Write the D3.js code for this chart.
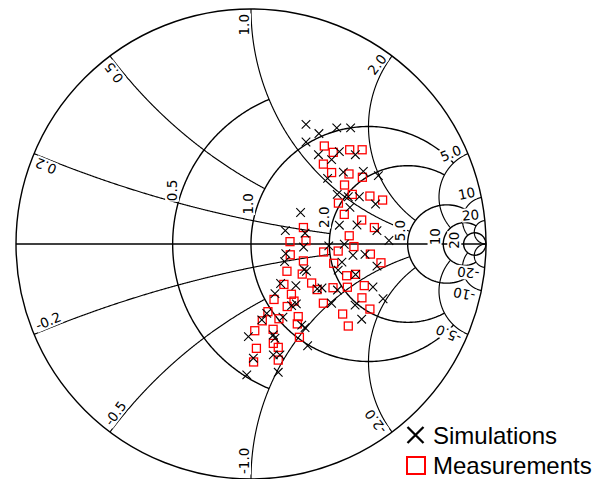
<!DOCTYPE html>
<html>
<head>
<meta charset="utf-8">
<script src="https://cdn.jsdelivr.net/npm/d3@7"></script>
<style>
	body { margin: 0; background: #fff; }
	text { font-family: "DejaVu Sans", sans-serif; }
</style>
</head>
<body>
<svg id="chart" width="605" height="479"></svg>
<script>
// reflection coefficient (real / imag) of the simulated points
var simRe = [0.234, 0.289, 0.365, 0.424, 0.234, 0.287, 0.343, 0.376, 0.444, 0.393, 0.478, 0.326, 0.542,
	0.367, 0.414, 0.461, 0.530, 0.421, 0.211, 0.376, 0.451, 0.536, 0.146, 0.230, 0.587, 0.331, 0.397,
	0.224, 0.148, 0.434, 0.485, 0.387, 0.143, 0.536, 0.371, 0.226, 0.236, 0.445, 0.126, 0.191, 0.282,
	0.302, 0.368, 0.519, 0.102, 0.562, 0.173, 0.193, 0.067, 0.046, 0.136, 0.343, 0.443, 0.471, 0.216,
	0.230, -0.011, 0.095, 0.102, 0.241, 0.010, 0.095, 0.123, 0.116, -0.018];
var simIm = [0.509, 0.470, 0.494, 0.494, 0.434, 0.380, 0.359, 0.393, 0.380, 0.306, 0.309, 0.279, 0.291,
	0.211, 0.201, 0.201, 0.170, 0.156, 0.134, 0.080, 0.081, 0.057, 0.057, 0.046, 0.015, -0.008, -0.001,
	-0.013, -0.041, -0.048, -0.044, -0.077, -0.075, -0.094, -0.111, -0.109, -0.116, -0.130, -0.168, -0.177, -0.191,
	-0.187, -0.196, -0.183, -0.211, -0.233, -0.262, -0.255, -0.295, -0.323, -0.311, -0.252, -0.260, -0.320, -0.345,
	-0.356, -0.394, -0.387, -0.401, -0.433, -0.486, -0.472, -0.472, -0.546, -0.557];

// reflection coefficient (real / imag) of the measured points
var measRe = [0.312, 0.350, 0.420, 0.473, 0.308, 0.343, 0.417, 0.474, 0.398, 0.431, 0.506, 0.560, 0.372,
	0.397, 0.471, 0.525, 0.223, 0.418, 0.166, 0.234, 0.438, 0.309, 0.371, 0.508, 0.167, 0.223, 0.352,
	0.553, 0.153, 0.218, 0.407, 0.445, 0.258, 0.349, 0.410, 0.482, 0.281, 0.140, 0.172, 0.098, 0.472,
	0.183, 0.154, 0.308, 0.506, 0.072, 0.048, 0.119, 0.201, 0.197, 0.390, 0.414, 0.016, 0.094, 0.095,
	0.116, 0.206, 0.023, 0.011, 0.116];
var measIm = [0.417, 0.390, 0.401, 0.401, 0.340, 0.304, 0.298, 0.284, 0.251, 0.211, 0.204, 0.187, 0.174,
	0.126, 0.102, 0.070, 0.070, 0.035, 0.010, 0.014, -0.011, -0.034, -0.030, -0.043, -0.046, -0.072, -0.082,
	-0.080, -0.116, -0.128, -0.135, -0.129, -0.166, -0.186, -0.184, -0.177, -0.194, -0.172, -0.214, -0.236, -0.229,
	-0.243, -0.266, -0.252, -0.277, -0.288, -0.327, -0.318, -0.309, -0.340, -0.298, -0.349, -0.369, -0.363, -0.423,
	-0.440, -0.397, -0.444, -0.502, -0.494];

// grid: resistance circles and the reactance where each one stops
var rTicks = [0.5, 1, 2, 5, 10, 20];
var rStop = [1, 5, 5, 10, 20, Infinity];
// reactance arcs and the resistance where each one stops
var xTicks = [0.2, 0.5, 1, 2, 5, 10, 20];
var xStop = [2, 1, 5, 5, 10, 20, Infinity];

var legendLabels = ['Simulations', 'Measurements'];

var cx = 251, cy = 244, R = 235;
var svg = d3.select('#chart');

var sx = d3.scaleLinear().domain([-1, 1]).range([cx - R, cx + R]);
var sy = d3.scaleLinear().domain([-1, 1]).range([cy + R, cy - R]);
var line = d3.line()
	.x(function(d) { return sx(d[0]); })
	.y(function(d) { return sy(d[1]); });

// normalized impedance -> reflection coefficient
function gamma(r, x) {
	var a = r - 1, c = r + 1;
	var den = c * c + x * x;
	return [(a * c + x * x) / den, (x * c - a * x) / den];
}

function fmt(v) {
	var s = Math.abs(v) >= 10 ? d3.format('d')(Math.abs(v)) : d3.format('.1f')(Math.abs(v));
	return (v < 0 ? '-' : '') + s;
}

var grid = svg.append('g').attr('class', 'grid').attr('fill', 'none').attr('stroke', '#000');

// resistance circles
rTicks.forEach(function(r, i) {
	var t1 = Math.atan(rStop[i]);
	var pts = d3.range(0, 401).map(function(k) {
		var t = -t1 + 2 * t1 * k / 400;
		return gamma(r, Math.tan(t));
	});
	grid.append('path').attr('d', line(pts)).attr('stroke-width', 1.4);
});

// reactance arcs, both signs
xTicks.forEach(function(x, i) {
	var t1 = Math.atan(xStop[i]);
	[x, -x].forEach(function(xv) {
		var pts = d3.range(0, 401).map(function(k) {
			return gamma(Math.tan(t1 * k / 400), xv);
		});
		grid.append('path').attr('d', line(pts)).attr('stroke-width', 1.15);
	});
});

// real axis and outer circle
grid.append('line')
	.attr('x1', sx(-1)).attr('x2', sx(1))
	.attr('y1', sy(0)).attr('y2', sy(0))
	.attr('stroke-width', 1.3);
grid.append('circle')
	.attr('cx', sx(0)).attr('cy', sy(0))
	.attr('r', sx(1) - sx(0))
	.attr('stroke-width', 1.4);

var labels = svg.append('g').attr('class', 'labels').style('font-size', '13.5px');

function addLabel(px, py, angle, txt, anchor, dy) {
	var lg = labels.append('g')
		.attr('transform', 'translate(' + px + ',' + py + ') rotate(' + angle + ')');
	var rect = lg.append('rect').attr('fill', '#fff');
	var t = lg.append('text')
		.attr('text-anchor', anchor)
		.attr('y', dy)
		.attr('fill', '#000')
		.text(txt);
	var bb = t.node().getBBox();
	rect.attr('x', bb.x - 0.5).attr('y', bb.y + 1)
		.attr('width', bb.width + 1).attr('height', bb.height - 2);
}

// reactance labels along each arc, just inside the outer circle
xTicks.forEach(function(x) {
	[x, -x].forEach(function(xv) {
		var p = gamma(0, xv), q = gamma(1e-4, xv);
		var P = [sx(p[0]), sy(p[1])], Q = [sx(q[0]), sy(q[1])];
		var dx = Q[0] - P[0], dy = Q[1] - P[1], n = Math.hypot(dx, dy);
		dx /= n; dy /= n;
		var dir = xv > 0 ? [-dx, -dy] : [dx, dy];
		var ang = Math.atan2(dir[1], dir[0]) * 180 / Math.PI;
		addLabel(P[0] + 5 * dx, P[1] + 5 * dy, ang, fmt(xv), xv > 0 ? 'end' : 'start', -2);
	});
});

// resistance labels on the upper left of each circle
rTicks.forEach(function(r) {
	var c = r / (1 + r), rad = 1 / (1 + r), a = 20 * Math.PI / 180;
	addLabel(sx(c - rad * Math.cos(a)), sy(rad * Math.sin(a)), -90, fmt(r), 'middle', -5);
});

// data
var marks = svg.append('g').attr('class', 'marks');

var meas = d3.zip(measRe, measIm);
marks.selectAll('rect.meas')
	.data(meas)
	.enter()
	.append('rect')
	.attr('class', 'meas')
	.attr('x', function(d) { return sx(d[0]) - 4; })
	.attr('y', function(d) { return sy(d[1]) - 4; })
	.attr('width', 8)
	.attr('height', 8)
	.attr('fill', 'none')
	.attr('stroke', '#ff0000')
	.attr('stroke-width', 1.3);

function cross(s) {
	return 'M' + (-s) + ',' + (-s) + 'L' + s + ',' + s + 'M' + (-s) + ',' + s + 'L' + s + ',' + (-s);
}

var sim = d3.zip(simRe, simIm);
marks.selectAll('path.sim')
	.data(sim)
	.enter()
	.append('path')
	.attr('class', 'sim')
	.attr('transform', function(d) { return 'translate(' + sx(d[0]) + ',' + sy(d[1]) + ')'; })
	.attr('d', cross(4.3))
	.attr('fill', 'none')
	.attr('stroke', '#000')
	.attr('stroke-width', 1.1);

// legend
var legend = svg.append('g').attr('class', 'legend')
	.style('font-size', '24px');

legend.append('path')
	.attr('transform', 'translate(415.5,435)')
	.attr('d', cross(8))
	.attr('fill', 'none')
	.attr('stroke', '#000')
	.attr('stroke-width', 2.3);
legend.append('text')
	.attr('x', 433).attr('y', 443.5)
	.style('font-family', '"Liberation Sans", Arial, sans-serif')
	.text(legendLabels[0]);

legend.append('rect')
	.attr('x', 407).attr('y', 457)
	.attr('width', 18).attr('height', 17)
	.attr('fill', 'none')
	.attr('stroke', '#ff0000')
	.attr('stroke-width', 2);
legend.append('text')
	.attr('x', 433).attr('y', 474)
	.style('font-family', '"Liberation Sans", Arial, sans-serif')
	.text(legendLabels[1]);
</script>
</body>
</html>
